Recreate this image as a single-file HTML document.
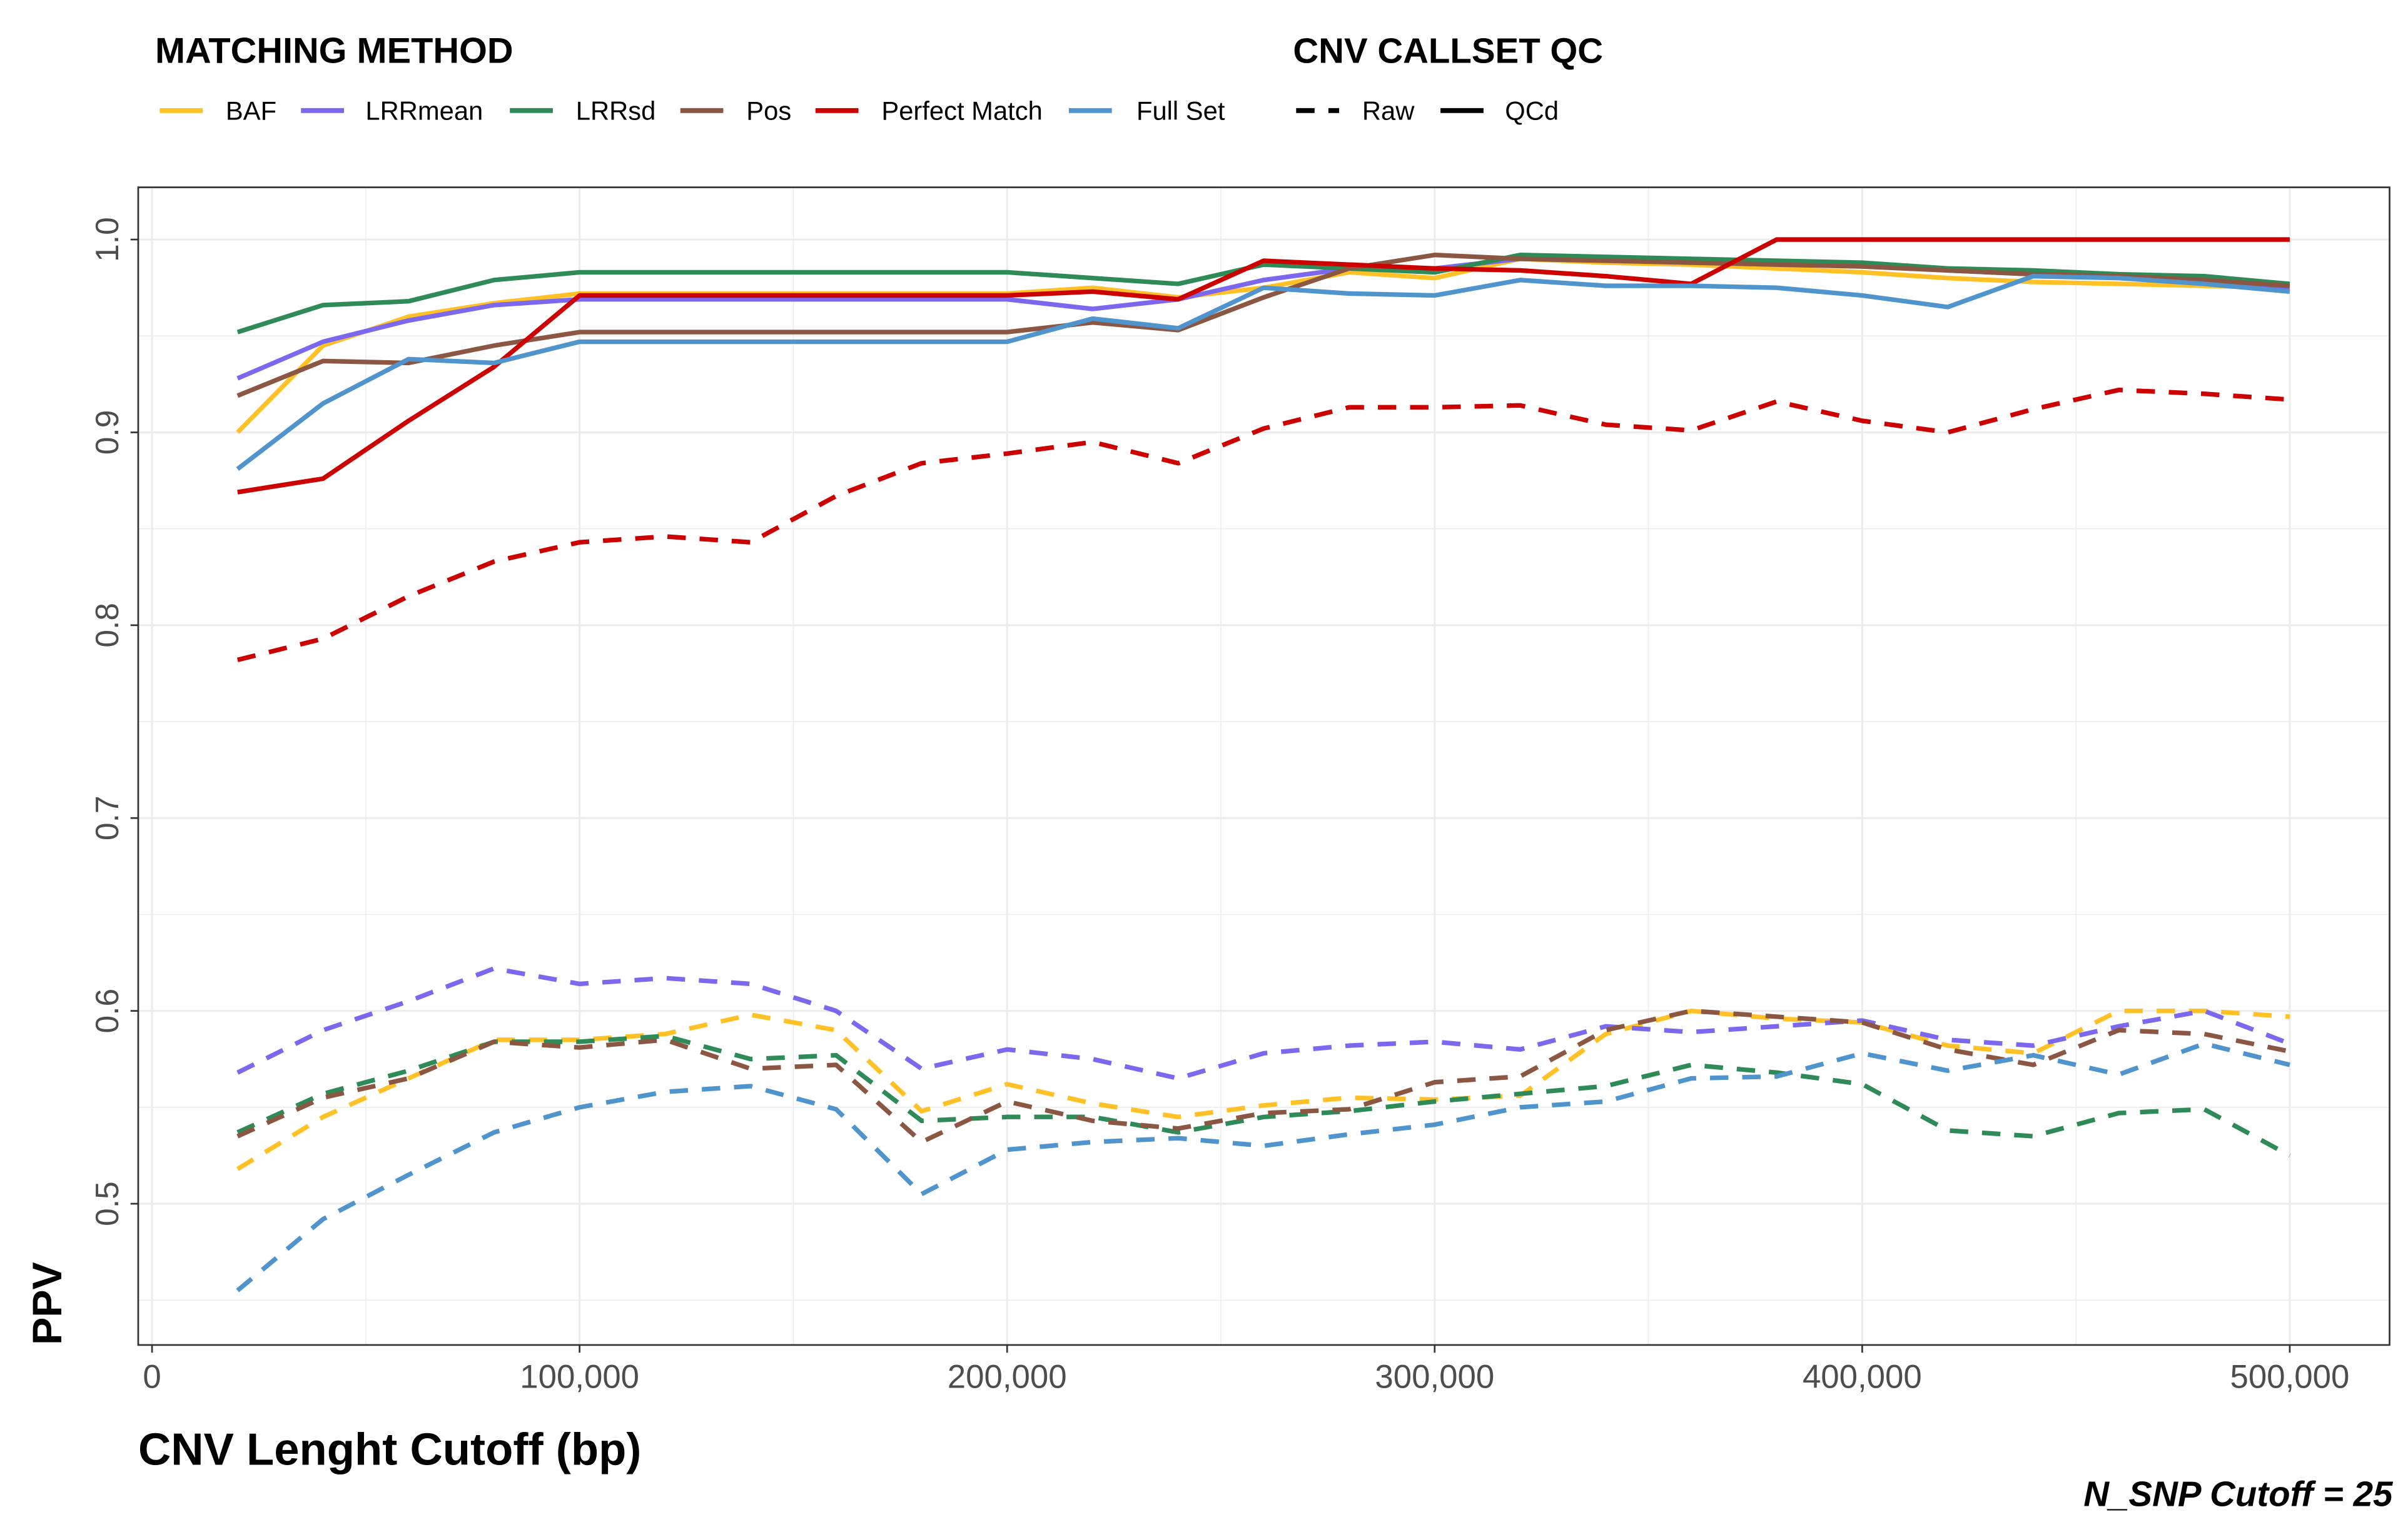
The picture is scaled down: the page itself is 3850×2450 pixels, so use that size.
<!DOCTYPE html>
<html><head><meta charset="utf-8"><style>
html,body{margin:0;padding:0;background:#fff;}
svg{display:block;font-family:"Liberation Sans",Arial,sans-serif;}
</style></head><body>
<svg id="chart" width="3850" height="2450" viewBox="0 0 1568 997.8" xmlns="http://www.w3.org/2000/svg">
<rect x="0" y="0" width="1568" height="998" fill="#fff"/>
<g id="grid"></g>
<g id="series"></g>
<rect x="90" y="122" width="1466" height="754" fill="none" stroke="#333" stroke-width="1.1"/>
<g id="axes"></g>
<text x="90" y="954" font-size="29.5" font-weight="bold" fill="#000">CNV Lenght Cutoff (bp)</text>
<text transform="translate(40,876) rotate(-90)" font-size="27" font-weight="bold" fill="#000">PPV</text>
<text x="1558" y="981" text-anchor="end" font-size="23" font-weight="bold" font-style="italic" fill="#000">N_SNP Cutoff = 25</text>
<text x="101" y="41" font-size="23.5" font-weight="bold">MATCHING METHOD</text>
<text x="842" y="41" font-size="23" font-weight="bold">CNV CALLSET QC</text>
<g id="legend"></g>
</svg>
<script>
const xs=[20000,40000,60000,80000,100000,120000,140000,160000,180000,200000,220000,240000,260000,280000,300000,320000,340000,360000,380000,400000,420000,440000,460000,480000,500000];
const methods=["BAF","LRRmean","LRRsd","Pos","Perfect Match","Full Set"];
const colors=["#FFC125","#7B68EE","#2E8B57","#8B5742","#CD0000","#4F94CD"];
const qcdBAF=[0.90,0.945,0.96,0.967,0.972,0.972,0.972,0.972,0.972,0.972,0.975,0.97,0.975,0.983,0.98,0.99,0.988,0.987,0.985,0.983,0.98,0.978,0.977,0.976,0.975];
const qcdLRRmean=[0.928,0.947,0.958,0.966,0.969,0.969,0.969,0.969,0.969,0.969,0.964,0.969,0.979,0.985,0.985,0.99,0.99,0.989,0.988,0.987,0.984,0.982,0.981,0.979,0.975];
const qcdLRRsd=[0.952,0.966,0.968,0.979,0.983,0.983,0.983,0.983,0.983,0.983,0.98,0.977,0.987,0.985,0.983,0.992,0.991,0.99,0.989,0.988,0.985,0.984,0.982,0.981,0.977];
const qcdPos=[0.919,0.937,0.936,0.945,0.952,0.952,0.952,0.952,0.952,0.952,0.957,0.953,0.97,0.985,0.992,0.99,0.989,0.988,0.987,0.986,0.984,0.982,0.981,0.979,0.976];
const qcdPerfect=[0.869,0.876,0.906,0.934,0.971,0.971,0.971,0.971,0.971,0.971,0.973,0.969,0.989,0.987,0.985,0.984,0.981,0.977,1.0,1.0,1.0,1.0,1.0,1.0,1.0];
const qcdFull=[0.881,0.915,0.938,0.936,0.947,0.947,0.947,0.947,0.947,0.947,0.959,0.954,0.975,0.972,0.971,0.979,0.976,0.976,0.975,0.971,0.965,0.981,0.98,0.977,0.973];
const rawBAF=[0.518,0.545,0.565,0.585,0.585,0.588,0.598,0.59,0.548,0.562,0.552,0.545,0.551,0.555,0.554,0.556,0.588,0.6,0.596,0.594,0.582,0.578,0.6,0.6,0.597];
const rawLRRmean=[0.568,0.59,0.605,0.622,0.614,0.617,0.614,0.6,0.57,0.58,0.575,0.565,0.578,0.582,0.584,0.58,0.592,0.589,0.592,0.595,0.585,0.582,0.592,0.6,0.583];
const rawLRRsd=[0.537,0.557,0.569,0.584,0.584,0.587,0.575,0.577,0.543,0.545,0.545,0.537,0.545,0.548,0.553,0.557,0.561,0.572,0.568,0.562,0.538,0.535,0.547,0.549,0.525];
const rawPos=[0.535,0.555,0.565,0.584,0.581,0.585,0.57,0.572,0.532,0.553,0.543,0.539,0.547,0.549,0.563,0.566,0.59,0.6,0.597,0.594,0.58,0.572,0.59,0.588,0.579];
const rawPerfect=[0.782,0.793,0.815,0.833,0.843,0.846,0.843,0.867,0.884,0.889,0.895,0.884,0.902,0.913,0.913,0.914,0.904,0.901,0.916,0.906,0.9,0.912,0.922,0.92,0.917];
const rawFull=[0.455,0.492,0.515,0.537,0.55,0.558,0.561,0.549,0.505,0.528,0.532,0.534,0.53,0.536,0.541,0.55,0.553,0.565,0.566,0.578,0.569,0.577,0.567,0.583,0.572];
const xTicks=[0,100000,200000,300000,400000,500000];
const xTickLabels=["0","100,000","200,000","300,000","400,000","500,000"];
const yTicks=[0.5,0.6,0.7,0.8,0.9,1.0];
const yTickLabels=["0.5","0.6","0.7","0.8","0.9","1.0"];

const NS="http://www.w3.org/2000/svg";
function X(v){return 99+(v/500000)*(1491-99);}
function Y(v){return 784-(v-0.5)/0.5*(784-156);}
function mk(tag,attrs,parent){const e=document.createElementNS(NS,tag);for(const k in attrs)e.setAttribute(k,attrs[k]);parent.appendChild(e);return e;}
const grid=document.getElementById('grid'),ser=document.getElementById('series'),axes=document.getElementById('axes'),leg=document.getElementById('legend');
for(let v=50000;v<=550000;v+=100000){const l=mk('line',{x1:X(v),x2:X(v),y1:122,y2:876,stroke:'#ebebeb','stroke-width':0.6},grid);

}
for(let v=0.45;v<1.0;v+=0.1){const l=mk('line',{x1:90,x2:1556,y1:Y(v),y2:Y(v),stroke:'#ebebeb','stroke-width':0.6},grid);

}
xTicks.forEach((v,i)=>{const l=mk('line',{x1:X(v),x2:X(v),y1:122,y2:876,stroke:'#ebebeb','stroke-width':1.2},grid);


const t=mk('line',{x1:X(v),x2:X(v),y1:876,y2:881,stroke:'#333','stroke-width':1.1},axes);


const tx=mk('text',{x:X(v),y:904,'text-anchor':'middle','font-size':21.5,fill:'#4d4d4d'},axes);tx.textContent=xTickLabels[i];

});
yTicks.forEach((v,i)=>{const l=mk('line',{x1:90,x2:1556,y1:Y(v),y2:Y(v),stroke:'#ebebeb','stroke-width':1.2},grid);


const t=mk('line',{x1:85,x2:90,y1:Y(v),y2:Y(v),stroke:'#333','stroke-width':1.1},axes);


const tx=mk('text',{transform:`translate(77,${Y(v)}) rotate(-90)`,'text-anchor':'middle','font-size':21,fill:'#4d4d4d'},axes);tx.textContent=yTickLabels[i];

});
const raw=[rawBAF,rawLRRmean,rawLRRsd,rawPos,rawPerfect,rawFull];
const qcd=[qcdBAF,qcdLRRmean,qcdLRRsd,qcdPos,qcdPerfect,qcdFull];
function draw(arr,i,dashed){const d=arr.map((v,j)=>(j?'L':'M')+X(xs[j]).toFixed(2)+','+Y(v).toFixed(2)).join('');
const p=mk('path',{d:d,fill:'none',stroke:colors[i],'stroke-width':3,'stroke-linejoin':'round'},ser);
if(dashed)p.setAttribute('stroke-dasharray','12 9');

}
raw.forEach((a,i)=>draw(a,i,true));
qcd.forEach((a,i)=>draw(a,i,false));
const keyX=[104,196,332,443,531,696],labX=[147,238,375,486,574,740];
methods.forEach((m,i)=>{const l=mk('line',{x1:keyX[i],x2:keyX[i]+28,y1:72,y2:72,stroke:colors[i],'stroke-width':3.2},leg);


const t=mk('text',{x:labX[i],y:78,'font-size':17,fill:'#000'},leg);t.textContent=m;

});
const r=mk('line',{x1:844,x2:872,y1:72,y2:72,stroke:'#000','stroke-width':3.2,'stroke-dasharray':'12 9'},leg);


const rt=mk('text',{x:887,y:78,'font-size':17},leg);rt.textContent='Raw';


const q=mk('line',{x1:938,x2:966,y1:72,y2:72,stroke:'#000','stroke-width':3.2},leg);


const qt=mk('text',{x:980,y:78,'font-size':17},leg);qt.textContent='QCd';


</script>
</body></html>
